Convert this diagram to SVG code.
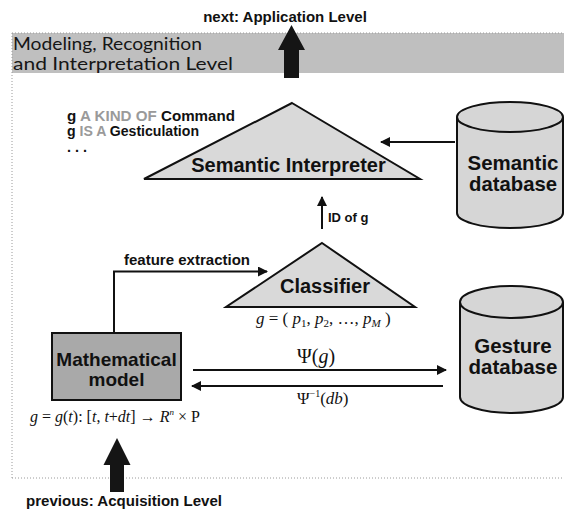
<svg xmlns="http://www.w3.org/2000/svg" width="564" height="510" viewBox="0 0 564 510">
  <style>
    .lbl { font-family: "Liberation Sans", Arial, sans-serif; font-weight: bold; fill: #111; }
    .node { font-family: "Liberation Sans", Arial, sans-serif; font-weight: bold; fill: #111; text-anchor: middle; }
    .math { font-family: "Liberation Serif", "Times New Roman", serif; font-style: italic; fill: #111; }
    .up { font-style: normal; }
    .grey { fill: #9a9a9a; }
    .band { font-family: Lato, "Open Sans", "DejaVu Sans", sans-serif; font-weight: normal; font-size: 17px; fill: #161616; }
    .frame { fill: none; stroke: #9a9a9a; stroke-width: 1; stroke-dasharray: 1 2; }
    .tri { fill: #d9d9d9; stroke: #111; stroke-width: 2; stroke-linejoin: miter; }
    .cyl { fill: #d6d6d6; stroke: #111; stroke-width: 2; }
    .conn { fill: none; stroke: #111; stroke-width: 2; }
    .big { fill: #151515; }
  </style>
  <defs>
    <marker id="head" viewBox="0 0 10 10" refX="9" refY="5" markerWidth="5.5" markerHeight="5" orient="auto" markerUnits="strokeWidth">
      <path d="M0,0 L10,5 L0,10 z" fill="#111"/>
    </marker>
  </defs>

  <rect width="564" height="510" fill="#ffffff"/>

  <!-- level band and dotted frame -->
  <g id="level-frame">
    <rect x="12" y="33" width="552" height="40" fill="#bfbfbf"/>
    <line class="frame" x1="12" y1="33" x2="564" y2="33"/>
    <line class="frame" x1="12" y1="33" x2="12" y2="478"/>
    <line class="frame" x1="12" y1="478" x2="564" y2="478"/>
    <text class="band" x="13" y="50" textLength="189" lengthAdjust="spacingAndGlyphs">Modeling, Recognition</text>
    <text class="band" x="13" y="70" textLength="220" lengthAdjust="spacingAndGlyphs">and Interpretation Level</text>
  </g>

  <!-- next level (output) -->
  <g id="next-level">
    <text class="lbl" x="285" y="22" font-size="15" text-anchor="middle">next: Application Level</text>
    <path class="big" d="M291.5,25 L305,50 L299,50 L299,78 L284,78 L284,50 L278,50 z"/>
  </g>

  <!-- previous level (input) -->
  <g id="previous-level">
    <path class="big" d="M117,438 L130.5,465 L124,465 L124,492 L110,492 L110,465 L103.5,465 z"/>
    <text class="lbl" x="26" y="506" font-size="15" textLength="196" lengthAdjust="spacingAndGlyphs">previous: Acquisition Level</text>
  </g>

  <!-- ontology notes -->
  <g id="relations">
    <text class="lbl" x="67" y="121" font-size="14.5" textLength="168" lengthAdjust="spacingAndGlyphs">g <tspan class="grey">A KIND OF</tspan> Command</text>
    <text class="lbl" x="67" y="136" font-size="14.5" textLength="132" lengthAdjust="spacingAndGlyphs">g <tspan class="grey">IS A</tspan> Gesticulation</text>
    <text class="lbl" x="67" y="152" font-size="14.5">. . .</text>
  </g>

  <!-- Semantic Interpreter -->
  <g id="semantic-interpreter">
    <path class="tri" d="M292,103 L420,179 L144,179 z"/>
    <text class="node" x="288.5" y="172" font-size="20">Semantic Interpreter</text>
  </g>

  <!-- Semantic database -->
  <g id="semantic-database">
    <path class="cyl" d="M457,117 L457,213 A53,15 0 0 0 563,213 L563,117"/>
    <ellipse class="cyl" cx="510" cy="117" rx="53" ry="15"/>
    <text class="node" x="513" y="170" font-size="20.5" textLength="91" lengthAdjust="spacingAndGlyphs">Semantic</text>
    <text class="node" x="513" y="191" font-size="20.5" textLength="88" lengthAdjust="spacingAndGlyphs">database</text>
  </g>

  <!-- Classifier -->
  <g id="classifier">
    <path class="tri" d="M322,243 L415,307 L226,307 z"/>
    <text class="node" x="325" y="293" font-size="20">Classifier</text>
    <text class="math" x="256" y="324" font-size="17">g <tspan class="up">= (</tspan> p<tspan class="up" font-size="11" dy="3">1</tspan><tspan class="up" dy="-3">, </tspan>p<tspan class="up" font-size="11" dy="3">2</tspan><tspan class="up" dy="-3">, …, </tspan>p<tspan font-size="11" dy="3">M</tspan><tspan class="up" dy="-3">  )</tspan></text>
  </g>

  <!-- Mathematical model -->
  <g id="mathematical-model">
    <rect x="52" y="333" width="129" height="67" fill="#a9a9a9" stroke="#111" stroke-width="2"/>
    <text class="node" x="116.5" y="366" font-size="19">Mathematical</text>
    <text class="node" x="116.5" y="386" font-size="19">model</text>
    <text class="math" x="30" y="422" font-size="16">g <tspan class="up">=</tspan> g<tspan class="up">(</tspan>t<tspan class="up">): [</tspan>t<tspan class="up">, </tspan>t<tspan class="up">+</tspan>dt<tspan class="up">] → </tspan>R<tspan font-size="9" dy="-7">n</tspan><tspan class="up" dy="7"> × P</tspan></text>
  </g>

  <!-- Gesture database -->
  <g id="gesture-database">
    <path class="cyl" d="M460,302 L460,397 A51.5,16 0 0 0 563,397 L563,302"/>
    <ellipse class="cyl" cx="511.5" cy="302" rx="51.5" ry="16"/>
    <text class="node" x="513" y="353" font-size="20.5">Gesture</text>
    <text class="node" x="513" y="374" font-size="20.5">database</text>
  </g>

  <!-- connectors -->
  <g id="connectors">
    <line class="conn" x1="455" y1="142" x2="381" y2="142" marker-end="url(#head)"/>
    <line class="conn" x1="322" y1="229" x2="322" y2="197" marker-end="url(#head)"/>
    <text class="lbl" x="328" y="222" font-size="13">ID of g</text>
    <path class="conn" d="M114,332 L114,271.5 L267,271.5" marker-end="url(#head)"/>
    <text class="lbl" x="124" y="265" font-size="14.5" textLength="126" lengthAdjust="spacingAndGlyphs">feature extraction</text>
    <line class="conn" x1="193" y1="370" x2="446" y2="370" marker-end="url(#head)"/>
    <text class="math" x="297" y="363" font-size="20"><tspan class="up">Ψ(</tspan>g<tspan class="up">)</tspan></text>
    <line class="conn" x1="443" y1="386" x2="192" y2="386" marker-end="url(#head)"/>
    <text class="math" x="297" y="404" font-size="17"><tspan class="up">Ψ</tspan><tspan class="up" font-size="10" dy="-7">−1</tspan><tspan class="up" dy="7">(</tspan>db<tspan class="up">)</tspan></text>
  </g>
</svg>
